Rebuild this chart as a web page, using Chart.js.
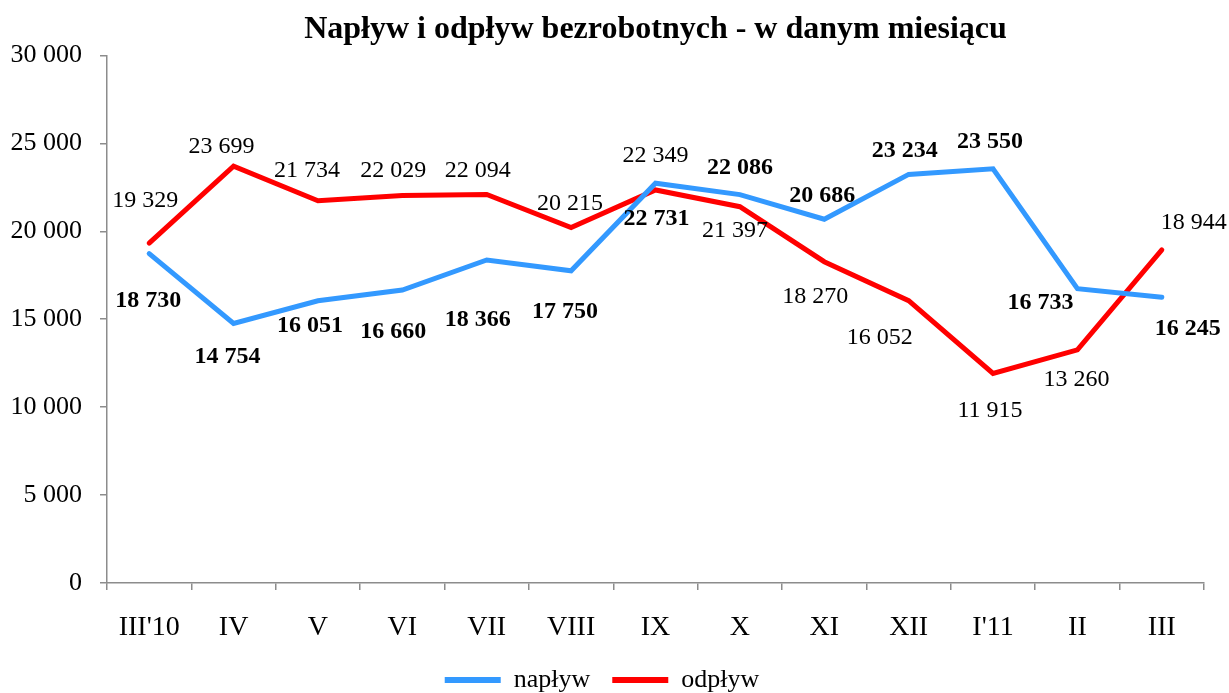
<!DOCTYPE html>
<html>
<head>
<meta charset="utf-8">
<script src="https://cdn.jsdelivr.net/npm/chart.js@4/dist/chart.umd.min.js"></script>
<style>
  html, body { margin: 0; padding: 0; background: #fff; }
  #wrap { width: 1229px; height: 693px; }
</style>
</head>
<body>
<div id="wrap"><canvas id="chart"></canvas></div>
<script>
// DATA
const months = ["III'10", 'IV', 'V', 'VI', 'VII', 'VIII', 'IX', 'X', 'XI', 'XII', "I'11", 'II', 'III'];
const naplyw = [18730, 14754, 16051, 16660, 18366, 17750, 22731, 22086, 20686, 23234, 23550, 16733, 16245];
const odplyw = [19329, 23699, 21734, 22029, 22094, 20215, 22349, 21397, 18270, 16052, 11915, 13260, 18944];

// label offsets from the point (dx, dy) in px
const naplywLabelPos = [[-1, 47], [-6, 33], [-8, 25], [-9, 42], [-9, 60], [-6, 41], [1, 36], [0, -27], [-2, -23], [-4, -24], [-3, -27], [-37, 14], [26, 31]];
const odplywLabelPos = [[-4, -42], [-12, -20], [-11, -30], [-9, -25], [-9, -24], [-1, -24], [0, -34], [-5, 24], [-9, 35], [-29, 37], [-3, 37], [-1, 30], [32, -27]];

const SERIF = '"Liberation Serif", "Times New Roman", serif';

function fmt(v) {
  return String(v).replace(/\B(?=(\d{3})+(?!\d))/g, ' ');
}

// draw the value labels next to points
const valueLabels = {
  id: 'valueLabels',
  afterDatasetsDraw(chart) {
    const ctx = chart.ctx;
    chart.data.datasets.forEach((ds, di) => {
      const meta = chart.getDatasetMeta(di);
      ctx.save();
      ctx.font = (ds.labelBold ? 'bold ' : '') + '24px ' + SERIF;
      ctx.fillStyle = '#000';
      ctx.textAlign = 'center';
      ctx.textBaseline = 'middle';
      meta.data.forEach((pt, i) => {
        const off = ds.labelPos[i];
        ctx.fillText(fmt(ds.data[i]), pt.x + off[0], pt.y + off[1]);
      });
      ctx.restore();
    });
  }
};

const ctx = document.getElementById('chart').getContext('2d');
const chart = new Chart(ctx, {
  type: 'line',
  data: {
    labels: months,
    datasets: [
      {
        label: 'napływ',
        data: naplyw,
        borderColor: '#3399FF',
        backgroundColor: '#3399FF',
        borderWidth: 5,
        pointRadius: 0,
        tension: 0,
        borderCapStyle: 'round',
        labelBold: true,
        labelPos: naplywLabelPos
      },
      {
        label: 'odpływ',
        data: odplyw,
        borderColor: '#FF0000',
        backgroundColor: '#FF0000',
        borderWidth: 5,
        pointRadius: 0,
        tension: 0,
        borderCapStyle: 'round',
        labelBold: false,
        labelPos: odplywLabelPos
      }
    ]
  },
  options: {
    responsive: true,
    maintainAspectRatio: false,
    animation: false,
    layout: { padding: { left: 0, right: 25, top: 0, bottom: -10 } },
    plugins: {
      title: {
        display: true,
        text: 'Napływ i odpływ bezrobotnych - w danym miesiącu',
        color: '#000',
        fullSize: false,
        font: { family: SERIF, size: 32, weight: 'bold' },
        padding: { top: 11, bottom: 6 }
      },
      legend: {
        position: 'bottom',
        labels: {
          color: '#000',
          font: { family: SERIF, size: 26 },
          usePointStyle: true,
          pointStyle: 'line',
          pointStyleWidth: 56,
          padding: 22,
          generateLabels(chart) {
            return Chart.defaults.plugins.legend.labels.generateLabels(chart)
              .map(l => Object.assign(l, { lineWidth: 6 }));
          }
        }
      },
      tooltip: { enabled: false }
    },
    scales: {
      x: {
        offset: true,
        afterFit(axis) { axis.height = 62; },
        grid: { offset: true, drawOnChartArea: false, drawTicks: true, tickLength: 7, color: '#8c8c8c', lineWidth: 1.5 },
        border: { color: '#8c8c8c', width: 1.5 },
        ticks: { color: '#000', font: { family: SERIF, size: 28 }, padding: 21, maxRotation: 0 }
      },
      y: {
        min: 0,
        max: 30000,
        afterFit(axis) { axis.width = 107; },
        grid: { drawOnChartArea: false, drawTicks: true, tickLength: 7, color: '#8c8c8c', lineWidth: 1.5 },
        border: { color: '#8c8c8c', width: 1.5 },
        ticks: {
          stepSize: 5000,
          color: '#000',
          font: { family: SERIF, size: 26 },
          padding: 18,
          callback: (v) => fmt(v)
        }
      }
    }
  },
  plugins: [valueLabels]
});
</script>
</body>
</html>
